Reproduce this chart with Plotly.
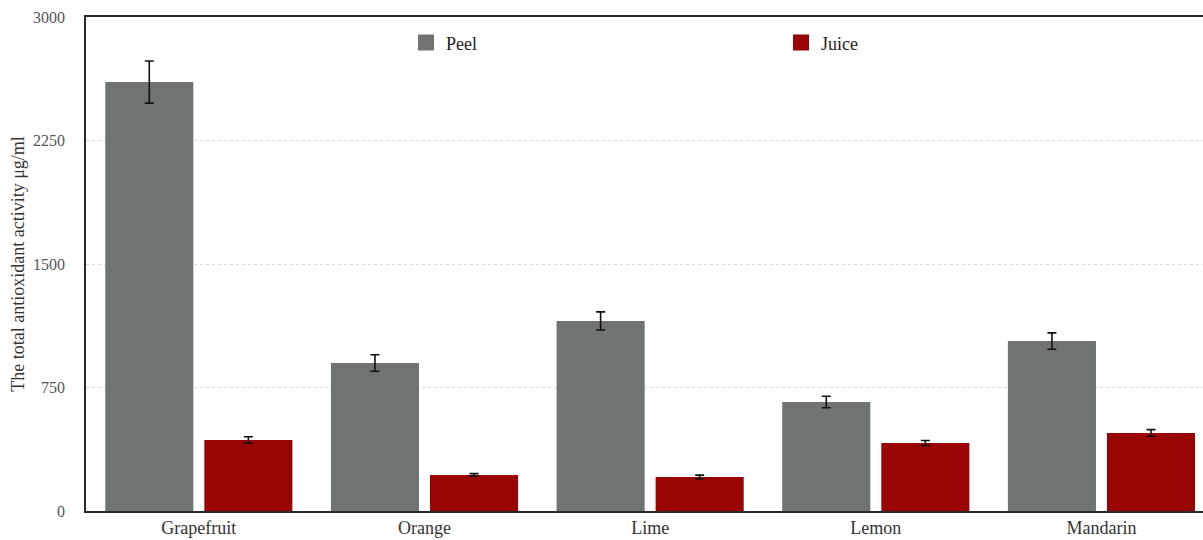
import plotly.graph_objects as go

# Citrus fruits and their total antioxidant activity (μg/ml)
fruits = ["Grapefruit", "Orange", "Lime", "Lemon", "Mandarin"]
peel_values = [2605, 899, 1154, 662, 1032]
peel_errors = [128, 50, 55, 35, 50]
juice_values = [431, 219, 206, 413, 474]
juice_errors = [20, 8, 12, 15, 20]
y_ticks = [0, 750, 1500, 2250, 3000]

PEEL_COLOR = "#6f7471"
JUICE_COLOR = "#990505"
FONT = "Liberation Serif, Times New Roman, serif"

fig = go.Figure()
for name, vals, errs, color in [
    ("Peel", peel_values, peel_errors, PEEL_COLOR),
    ("Juice", juice_values, juice_errors, JUICE_COLOR),
]:
    fig.add_trace(go.Bar(
        name=name, x=fruits, y=vals, showlegend=False, legendgroup=name,
        marker=dict(color=color, line=dict(width=0)),
        error_y=dict(type="data", array=errs, color="#111111",
                     thickness=1.6, width=4.5),
    ))
    # legend entry with a larger square swatch
    fig.add_trace(go.Scatter(
        name=name, x=[None], y=[None], mode="markers", legendgroup=name,
        marker=dict(symbol="square", size=17, color=color),
        hoverinfo="skip",
    ))

fig.update_layout(
    width=1203, height=540,
    margin=dict(l=86, r=0, t=17, b=29, autoexpand=False),
    paper_bgcolor="white", plot_bgcolor="white",
    barmode="group", bargap=0.122, bargroupgap=0.111,
    font=dict(family=FONT, size=18, color="#333333"),
    showlegend=True,
    legend=dict(
        orientation="h", x=0.2865, y=0.985, xanchor="left", yanchor="top",
        entrywidth=330, entrywidthmode="pixels",
        font=dict(family=FONT, size=18, color="#222222"),
        bgcolor="rgba(0,0,0,0)",
    ),
    xaxis=dict(
        type="category", range=[-0.5, 4.45],
        showline=True, linecolor="#2a2a2a", linewidth=1.5, mirror=True,
        showgrid=False, ticks="",
        tickfont=dict(family=FONT, size=18, color="#333333"),
    ),
    yaxis=dict(
        range=[0, 3000], tickvals=y_ticks,
        showline=True, linecolor="#2a2a2a", linewidth=1.5, mirror=True,
        showgrid=True, gridcolor="#d9d9d9", griddash="dot", gridwidth=1,
        zeroline=False, ticks="", ticklabelstandoff=16,
        tickfont=dict(family=FONT, size=16, color="#555555"),
        title=dict(text="The total antioxidant activity μg/ml", standoff=4,
                   font=dict(family=FONT, size=18, color="#333333")),
    ),
)

fig.write_html("out.html")
